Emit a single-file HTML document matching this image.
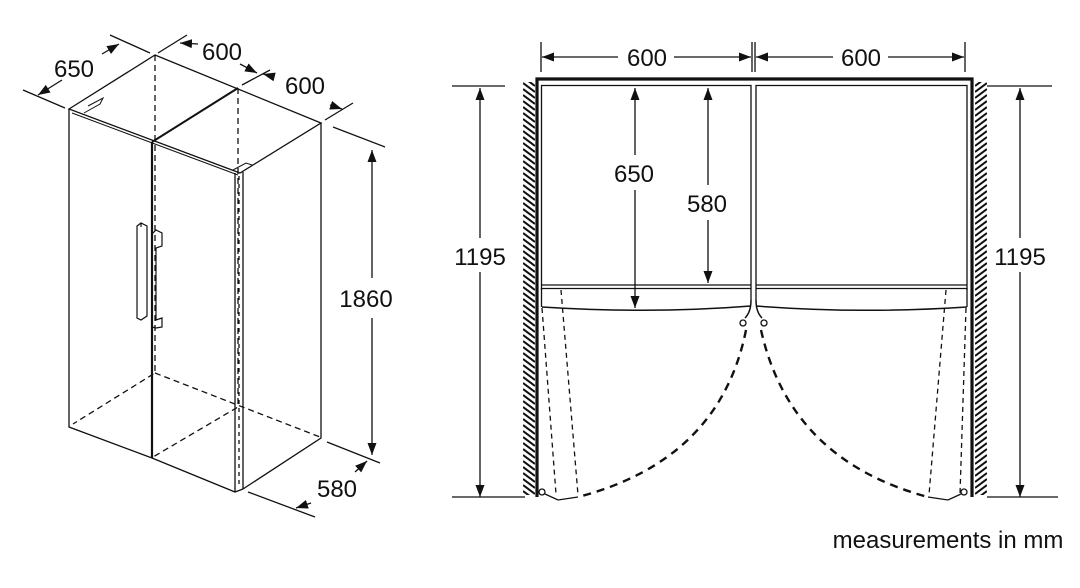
<!DOCTYPE html>
<html><head><meta charset="utf-8"><style>
html,body{margin:0;padding:0;background:#fff}
svg{display:block}
text{font-family:"Liberation Sans",sans-serif;fill:#111}
</style></head><body>
<svg width="1080" height="588" viewBox="0 0 1080 588" xmlns="http://www.w3.org/2000/svg">
<defs>
<marker id="a" viewBox="0 0 10 10" refX="10" refY="5" markerWidth="12" markerHeight="9" markerUnits="userSpaceOnUse" orient="auto-start-reverse" preserveAspectRatio="none"><path d="M0,0 L10,5 L0,10 z" fill="#111"/></marker>
<pattern id="hl" width="12" height="6" patternUnits="userSpaceOnUse" x="523" y="0"><line x1="0" y1="-1" x2="12" y2="8" stroke="#111" stroke-width="2"/><line x1="0" y1="5" x2="12" y2="14" stroke="#111" stroke-width="2"/><line x1="0" y1="-7" x2="12" y2="2" stroke="#111" stroke-width="2"/></pattern>
<pattern id="hr" width="12" height="6" patternUnits="userSpaceOnUse" x="975" y="0"><line x1="0" y1="8" x2="12" y2="-1" stroke="#111" stroke-width="2"/><line x1="0" y1="14" x2="12" y2="5" stroke="#111" stroke-width="2"/><line x1="0" y1="2" x2="12" y2="-7" stroke="#111" stroke-width="2"/></pattern>
</defs>
<g stroke="#111" fill="none" stroke-width="1.3">
<path d="M69,109 L155,55 L321,123 L240,173 Z"/>
<path d="M152,142 L238,88" stroke-width="2"/>
<path d="M72,113 L238,175" stroke-width="1"/>
<path d="M84,113 L100,104 L103,98 L88,106" stroke-width="1"/>
<path d="M233,170 L246,163 L252,165" stroke-width="1"/>
<path d="M69,109 L69,427 L152,458"/>
<path d="M152,142 L152,458" stroke-width="2.2"/>
<path d="M152,458 L235,492 L243,489"/>
<path d="M235,173 L235,492"/>
<path d="M243,172 L243,489"/>
<path d="M239,176 L239,488" stroke-dasharray="4,4"/>
<path d="M321,123 L321,438 L243,489"/>
<path d="M155,55 L155,373 L73,424 M155,373 L320,437 M238,88 L238,407 L153,457" stroke-dasharray="6,4"/>
<path d="M137,226 L141,223 L147,226 L147,316 L141,320 L137,318 Z M141,223 L141,227 M137,275 L137,318" stroke-width="1.2"/>
<path d="M152,234 L156,230 L162,233 L162,246 L156,248 L156,320 L162,318 L162,327 L156,328 L152,327" stroke-width="1.2"/>
<path d="M23,90 L65,108 M110,35 L150,53"/>
<path d="M62,80 L38,95" marker-end="url(#a)"/>
<path d="M102,54 L119,44" marker-end="url(#a)"/>
<path d="M158,53 L187,35 M242,85 L270,70"/>
<path d="M198,44 L180,43" marker-end="url(#a)"/>
<path d="M240,64 L257,73" marker-end="url(#a)"/>
<path d="M325,120 L353,103"/>
<path d="M271,76 L263,74" marker-end="url(#a)"/>
<path d="M330,105 L342,109" marker-end="url(#a)"/>
<path d="M333,127 L385,147 M327,442 L380,463 M248,492 L315,517"/>
<path d="M372,278 L372,150" marker-end="url(#a)"/>
<path d="M372,318 L372,455" marker-end="url(#a)"/>
<path d="M311,503 L296,508" marker-end="url(#a)"/>
<path d="M355,472 L367,461" marker-end="url(#a)"/>

<path d="M537,497 L537,79 L972,79 L972,497" stroke-width="3.2"/>
<rect x="523" y="82" width="12" height="413" fill="url(#hl)" stroke="none"/>
<rect x="975" y="82" width="12" height="413" fill="url(#hr)" stroke="none"/>
<path d="M541.5,290 L541.5,85.5 L751,85.5 L751,300 M756,300 L756,85.5 L967,85.5 L967,290"/>
<path d="M541.5,285 L751,285 M541.5,288.5 L751,288.5 M756,285 L967,285 M756,288.5 L967,288.5"/>
<path d="M541.5,288 L541.5,307 M967,288 L967,307"/>
<path d="M542,307 Q650,314 751,306 M756,306 Q860,314 967,307" stroke-width="1.5"/>
<path d="M751,300 Q751,312 745,318 M756,300 Q756,312 762,318" stroke-width="1.5"/>
<circle cx="743" cy="323" r="3"/><circle cx="764" cy="323" r="3"/>
<circle cx="542" cy="492" r="3"/><circle cx="964" cy="492" r="3"/>
<path d="M746,330 Q720,460 578,497" stroke-width="2.4" stroke-dasharray="8,6"/>
<path d="M761,330 Q790,460 928,497" stroke-width="2.4" stroke-dasharray="8,6"/>
<path d="M542,308 L556,494 M561,290 L578,495 M966,308 L960,494 M946,290 L929,495" stroke-dasharray="5,4"/>
<path d="M545,494 L558,500 L578,497 M961,494 L948,500 L928,497" stroke-width="1.3"/>
<path d="M541,42 L541,72 M752,42 L752,72 M755,42 L755,72 M965,42 L965,72"/>
<path d="M618,57 L542,57" marker-end="url(#a)"/>
<path d="M674,57 L751,57" marker-end="url(#a)"/>
<path d="M833,57 L756,57" marker-end="url(#a)"/>
<path d="M888,57 L964,57" marker-end="url(#a)"/>
<path d="M452,86 L505,86 M452,497 L525,497 M987,86 L1052,86 M987,497 L1058,497"/>
<path d="M480,238 L480,88" marker-end="url(#a)"/>
<path d="M480,272 L480,497" marker-end="url(#a)"/>
<path d="M1020,238 L1020,88" marker-end="url(#a)"/>
<path d="M1020,272 L1020,497" marker-end="url(#a)"/>
<path d="M635,155 L635,88" marker-end="url(#a)"/>
<path d="M635,190 L635,308" marker-end="url(#a)"/>
<path d="M708,185 L708,88" marker-end="url(#a)"/>
<path d="M708,220 L708,283" marker-end="url(#a)"/>
</g>
<g font-size="24" text-anchor="middle">
<text x="74" y="77">650</text>
<text x="222" y="60">600</text>
<text x="305" y="94">600</text>
<text x="366" y="307">1860</text>
<text x="337" y="497">580</text>
<text x="647" y="66">600</text>
<text x="861" y="66">600</text>
<text x="480" y="265">1195</text>
<text x="1020" y="265">1195</text>
<text x="634" y="182">650</text>
<text x="707" y="212">580</text>
<text x="948" y="548" font-size="24">measurements in mm</text>
</g>
</svg>
</body></html>
